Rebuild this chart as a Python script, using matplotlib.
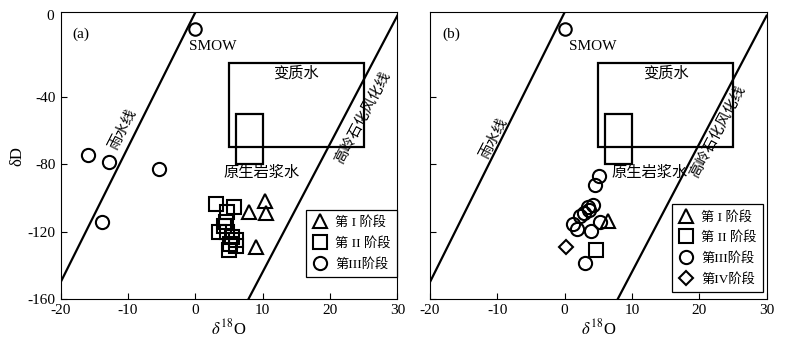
import matplotlib
matplotlib.use('Agg')
import matplotlib.pyplot as plt
from matplotlib.patches import Rectangle
import numpy as np

plt.rcParams['font.family'] = ['Liberation Serif', 'Noto Sans CJK SC']
plt.rcParams['mathtext.fontset'] = 'stix'
plt.rcParams['axes.unicode_minus'] = False

# (a) data, stage I-III
a_s1_x = [10.4, 10.55, 7.9, 9.05]
a_s1_y = [-101.7, -108.9, -108.6, -129.0]
a_s2_x = [3.1, 5.8, 4.75, 4.6, 3.55, 4.75, 5.5, 6.1, 5.2, 6.1, 5.05, 4.2]
a_s2_y = [-103.7, -105.5, -108.5, -114.4, -120.3, -120.3, -123.3, -125.0, -127.4, -128.6, -131.0, -117.0]
a_s3_x = [-15.9, -12.8, -5.4, -13.9]
a_s3_y = [-74.6, -78.7, -82.9, -114.4]

# (b) data, stage I-IV
b_s1_x = [6.5]
b_s1_y = [-113.8]
b_s2_x = [4.7]
b_s2_y = [-131.0]
b_s3_x = [5.15, 4.55, 4.26, 3.66, 2.92, 2.32, 1.28, 1.88, 3.96, 5.3, 3.07, 3.5]
b_s3_y = [-87.1, -92.4, -104.3, -107.3, -109.0, -110.8, -115.5, -118.4, -119.6, -114.4, -138.7, -105.5]
b_s4_x = [0.24]
b_s4_y = [-129.2]

smow = (0, 0)
stage_names = ['第 I 阶段', '第 II 阶段', '第III阶段', '第IV阶段']
markers = ['^', 's', 'o', 'D']
msizes = [10, 9.5, 9.5, 7]

cjk = ['Noto Sans CJK SC', 'Liberation Serif']


def draw_panel(ax, groups, tag, smow_x, lab_pos, leg_anchor):
    ax.set_xlim(-20, 30)
    ax.set_ylim(-160, 10)
    xs = np.array([-20, 30])
    # meteoric water line and kaolinite weathering line
    ax.plot(xs, 8 * xs + 10, color='k', lw=1.6)
    ax.plot(xs, 7.6 * xs - 220, color='k', lw=1.6)
    ax.add_patch(Rectangle((5, -70), 20, 50, fill=False, lw=1.6, ec='k'))
    ax.add_patch(Rectangle((6, -80), 4, 30, fill=False, lw=1.6, ec='k'))
    ax.plot(*smow, 'o', mfc='white', mec='k', ms=9, mew=1.5)
    ax.text(smow_x, -10, 'SMOW', fontsize=11, va='center', ha='left')
    ax.text(-18.2, -3, tag, fontsize=11, va='center', ha='left')
    ax.text(15, -26, '变质水', fontsize=11, ha='center', va='center', family=cjk)
    ax.text(lab_pos[0], -85, '原生岩浆水', fontsize=11, ha='center', va='center', family=cjk)
    ax.text(lab_pos[1][0], lab_pos[1][1], '雨水线', fontsize=10.5, ha='center', va='center',
            rotation=63, family=cjk)
    ax.text(lab_pos[2][0], lab_pos[2][1], '高岭石化风化线', fontsize=10.5, ha='center', va='center',
            rotation=62, family=cjk)
    for i, (gx, gy) in enumerate(groups):
        ax.plot(gx, gy, markers[i], ls='none', mfc='none', mec='k', ms=msizes[i], mew=1.5,
                label=stage_names[i])
    leg = ax.legend(loc='upper left', bbox_to_anchor=leg_anchor, fancybox=False, edgecolor='k',
                    framealpha=1, fontsize=9.5, handletextpad=0.6,
                    labelspacing=0.6, borderpad=0.5, handlelength=1.1)
    leg.get_frame().set_linewidth(0.9)
    ax.set_xticks([-20, -10, 0, 10, 20, 30])
    ax.set_yticks([-160, -120, -80, -40])
    ax.tick_params(direction='in', labelsize=11, length=4)
    ax.set_xlabel(r'$\delta^{18}$O', fontsize=12, labelpad=1)


fig = plt.figure(figsize=(7.86, 3.5), dpi=100)
ax1 = fig.add_axes([0.0772, 0.1457, 0.4283, 0.819])
ax2 = fig.add_axes([0.547, 0.1457, 0.4283, 0.819])

draw_panel(ax1, [(a_s1_x, a_s1_y), (a_s2_x, a_s2_y), (a_s3_x, a_s3_y)], '(a)', -1.0,
           (9.8, (-10.8, -59.5), (24.8, -52)), (0.71, 0.335))
draw_panel(ax2, [(b_s1_x, b_s1_y), (b_s2_x, b_s2_y), (b_s3_x, b_s3_y), (b_s4_x, b_s4_y)], '(b)', 0.7,
           (12.7, (-10.5, -64.5), (22.7, -60.4)), (0.70, 0.355))

ax1.set_yticklabels(['-160', '-120', '-80', '-40'])
ax1.set_ylabel('δD', fontsize=12, labelpad=2)
# top label of y axis
ax1.text(-0.02, 0.985, '0', transform=ax1.transAxes, ha='right', va='center', fontsize=11)
ax2.set_yticklabels([])

fig.savefig('out.png', dpi=100)
